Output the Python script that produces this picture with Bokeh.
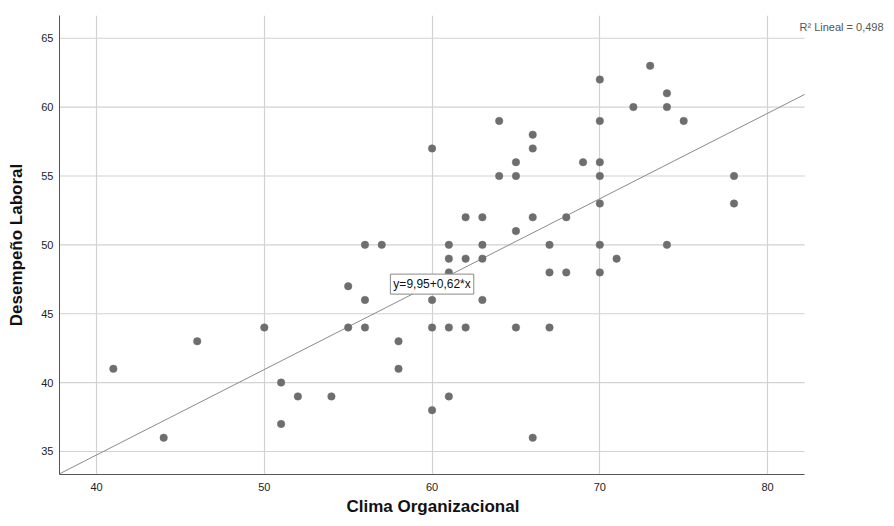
from bokeh.plotting import figure
from bokeh.models import Range1d, Label, FixedTicker, ColumnDataSource, Title
from bokeh.embed import file_html
from bokeh.resources import INLINE

# Data
clima = [41, 44, 46, 50, 51, 51, 52, 54, 55, 55, 56, 56, 56, 57, 58, 58,
         60, 60, 60, 60, 61, 61, 61, 61, 61, 62, 62, 62, 63, 63, 63, 63,
         64, 64, 65, 65, 65, 65, 66, 66, 66, 66, 67, 67, 67, 68, 68, 69,
         70, 70, 70, 70, 70, 70, 70, 71, 72, 73, 74, 74, 74, 75, 78, 78]
desempeno = [41, 36, 43, 44, 40, 37, 39, 39, 47, 44, 50, 46, 44, 50, 43, 41,
             57, 46, 44, 38, 50, 49, 48, 44, 39, 52, 49, 44, 52, 50, 49, 46,
             59, 55, 56, 55, 51, 44, 58, 57, 52, 36, 50, 48, 44, 52, 48, 56,
             62, 59, 56, 55, 53, 50, 48, 49, 60, 63, 61, 60, 50, 59, 55, 53]

intercept = 9.95
slope = 0.62
r2_text = "R\u00b2 Lineal = 0,498"
eq_text = "y=9,95+0,62*x"
x_label = "Clima Organizacional"
y_label = "Desempeño Laboral"

x_ticks = [40, 50, 60, 70, 80]
y_ticks = [35, 40, 45, 50, 55, 60, 65]

FONT = "Liberation Sans"

# plotted data area
x0, x1 = 37.79, 82.21
y0, y1 = 33.33, 66.65
# visible range extends right so the R² note (outside the data area) is not clipped
px_per_unit = 16.775
frame_w = 827
x_view_end = x0 + frame_w / px_per_unit

p = figure(frame_width=frame_w, frame_height=459,
           min_border_left=59, min_border_right=0,
           min_border_top=15, min_border_bottom=44,
           x_range=Range1d(x0, x_view_end), y_range=Range1d(y0, y1),
           output_backend="svg", toolbar_location=None)

p.outline_line_color = None
p.background_fill_color = "white"
p.border_fill_color = "white"

# vertical grid
p.xgrid.ticker = FixedTicker(ticks=x_ticks)
p.xgrid.grid_line_color = "#d2d2d2"
p.xgrid.grid_line_width = 1.2
# horizontal grid limited to the data area
p.ygrid.visible = False
p.segment(x0=[x0] * len(y_ticks), y0=y_ticks, x1=[x1] * len(y_ticks), y1=y_ticks,
          line_color="#d2d2d2", line_width=1.2, level="underlay")

# axes
for ax in (p.xaxis, p.yaxis):
    ax.axis_line_color = "#555555"
    ax.axis_line_width = 1
    ax.major_tick_line_color = None
    ax.minor_tick_line_color = None
    ax.major_tick_out = 0
    ax.major_tick_in = 0
    ax.major_label_text_font = FONT
    ax.major_label_text_font_size = "11px"
    ax.major_label_text_color = "#222222"
    ax.axis_label_text_font = FONT
    ax.axis_label_text_font_size = "17px"
    ax.axis_label_text_font_style = "bold"
    ax.axis_label_text_color = "#111111"

p.xaxis.ticker = FixedTicker(ticks=x_ticks)
p.yaxis.ticker = FixedTicker(ticks=y_ticks)
p.xaxis.bounds = (x0, x1)
p.yaxis.axis_label = y_label
p.xaxis.major_label_standoff = 8
p.yaxis.major_label_standoff = 6
p.yaxis.axis_label_standoff = 12

# x-axis title, centred under the data area (not the wider frame)
xt = Title(text=x_label, align="left", offset=287, standoff=3,
           text_font=FONT, text_font_size="17px", text_font_style="bold",
           text_color="#111111")
p.add_layout(xt, "below")

# regression line computed from coefficients over the data x range
lx = [x0, x1]
ly = [intercept + slope * v for v in lx]
p.line(lx, ly, line_color="#8a8a8a", line_width=1)

src = ColumnDataSource(dict(x=clima, y=desempeno))
p.scatter("x", "y", source=src, size=7.5, fill_color="#6e6e6e",
          line_color="#6e6e6e", line_width=0.5)

# equation label
eq = Label(x=60, y=47.15, text=eq_text, text_align="center",
           text_baseline="middle", text_font=FONT, text_font_size="12px",
           text_color="#111111", background_fill_color="white",
           border_line_color="#8a8a8a", border_line_width=1, padding=3)
p.add_layout(eq)

r2 = Label(x=799, y=26, x_units="canvas", y_units="canvas", text=r2_text,
           text_align="left", text_baseline="middle", text_font=FONT,
           text_font_size="11px", text_color="#555555")
p.add_layout(r2)

open("out.html", "w").write(file_html(p, INLINE))
